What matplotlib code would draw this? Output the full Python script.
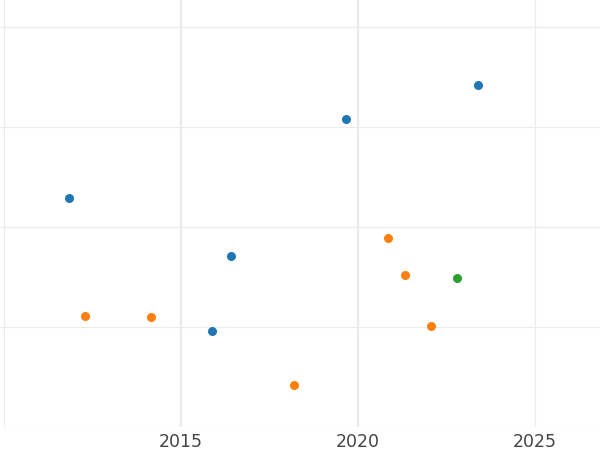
import matplotlib
matplotlib.use("Agg")
import matplotlib.pyplot as plt

blue_x = [2011.86, 2016.41, 2015.88, 2019.66, 2023.39]
blue_y = [2.29, 1.71, 0.96, 3.08, 3.42]
orange_x = [2012.29, 2014.15, 2018.19, 2020.85, 2021.33, 2022.06]
orange_y = [1.11, 1.10, 0.42, 1.89, 1.52, 1.01]
green_x = [2022.80]
green_y = [1.49]

fig = plt.figure(figsize=(6, 4.5), dpi=100)
ax = fig.add_axes([0, 23 / 450, 1, 427 / 450])

ax.scatter(blue_x, blue_y, color="#1f77b4", s=30, zorder=3)
ax.scatter(orange_x, orange_y, color="#ff7f0e", s=30, zorder=3)
ax.scatter(green_x, green_y, color="#2ca02c", s=30, zorder=3)

ax.set_xlim(2009.9, 2026.84)
ax.set_ylim(0, 4.27)
ax.set_xticks([2010, 2015, 2020, 2025])
ax.set_xticklabels(["", "2015", "2020", "2025"])
ax.set_yticks([0, 1, 2, 3, 4])
ax.set_yticklabels([])
ax.tick_params(length=0, labelsize=12.5, colors="#444444", pad=4)
ax.grid(True, color="#ebebeb", linewidth=0.8)
for i, gl in enumerate(ax.xaxis.get_gridlines()):
    if i in (1, 2):
        gl.set_linewidth(1.6)
for s in ax.spines.values():
    s.set_visible(False)

fig.savefig("out.png", dpi=100)
